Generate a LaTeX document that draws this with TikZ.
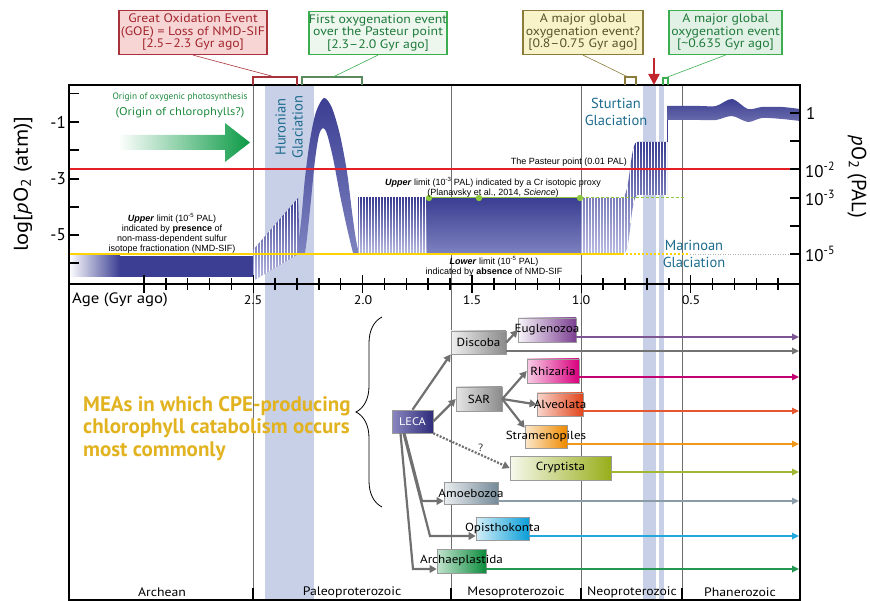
\documentclass[tikz,border=0pt]{standalone}
\usepackage{fontspec}
\setmainfont{PT Sans}
\newfontfamily\arialf{Liberation Sans}
\newfontfamily\myr[FakeStretch=1.12,Ligatures=TeX]{PT Sans}
\usetikzlibrary{arrows.meta,decorations.pathreplacing,calc}
\definecolor{oxblue}{HTML}{3B3E92}
\definecolor{oxmid}{HTML}{7D82C0}
\definecolor{oxlight}{HTML}{B9BCE2}
\definecolor{bandc}{HTML}{C8D0E7}
\definecolor{glac}{HTML}{1D6B8E}
\definecolor{pasteur}{HTML}{E41F26}
\definecolor{yel}{HTML}{FFD300}
\definecolor{crgreen}{HTML}{8DC63F}
\definecolor{eragrey}{HTML}{6E6E6E}
\definecolor{ogreen}{HTML}{1E8A3E}
\definecolor{arrgreen}{HTML}{0B9A45}
\definecolor{goeT}{HTML}{A2262D}
\definecolor{goeF}{HTML}{F7D5D5}
\definecolor{goeD}{HTML}{A9333A}
\definecolor{grT}{HTML}{1F7A3C}
\definecolor{grF}{HTML}{EDF7EE}
\definecolor{grF2}{HTML}{E2F1E5}
\definecolor{grD}{HTML}{3DAE50}
\definecolor{brG}{HTML}{5A8A5E}
\definecolor{olT}{HTML}{59522A}
\definecolor{olF}{HTML}{F8F3C9}
\definecolor{olD}{HTML}{8C7C3B}
\definecolor{arrred}{HTML}{C1272D}
\definecolor{treeg}{HTML}{707070}
\definecolor{boxg}{HTML}{9A9A9A}
\definecolor{meaY}{HTML}{E2B321}
\definecolor{cEug}{HTML}{7B3F91}
\definecolor{cEugA}{HTML}{7E5594}
\definecolor{cRhi}{HTML}{D9007E}
\definecolor{cAlv}{HTML}{E2441A}
\definecolor{cStr}{HTML}{EE8A00}
\definecolor{cCry}{HTML}{98AE1A}
\definecolor{cAmo}{HTML}{748A98}
\definecolor{cOpi}{HTML}{0A9ED8}
\definecolor{cArc}{HTML}{0C8C3C}
\definecolor{cLeca}{HTML}{2E2C7A}
\definecolor{cLecaL}{HTML}{8A87C0}
\definecolor{cGrey}{HTML}{8A8A8A}
\begin{document}
\begin{tikzpicture}[x=1pt,y=-1pt,
  topbox/.style={draw, line width=1.2pt, align=center, inner sep=0pt, minimum height=44pt, font=\myr\fontsize{12.3}{12.5}\selectfont},
  anno/.style={font=\arialf\fontsize{9}{10}\selectfont, align=center, inner sep=0pt},
  glacl/.style={text=glac, font=\fontsize{14.5}{17}\selectfont, align=center, inner sep=0pt},
  tbox/.style={draw=boxg, line width=0.6pt, inner sep=0pt, font=\myr\fontsize{11.7}{13}\selectfont},
  tarrow/.style={draw=treeg, line width=2.2pt, -{Triangle[length=7pt,width=7.5pt]}},
  harrow/.style={line width=1.6pt, -{Triangle[length=7pt,width=6.5pt]}},
  eraline/.style={draw=eragrey, line width=0.8pt},
  tickc/.style={line width=1.5pt},
  bignum/.style={font=\fontsize{17}{20}\selectfont, inner sep=0pt}
]
\useasboundingbox (0,0) rectangle (870,601);

% glaciation bands
\fill[bandc] (265,85) rectangle (314,600);
\fill[bandc] (643,85) rectangle (656,600);
\fill[bandc] (659,85) rectangle (664,600);

% era lines
\foreach \x in {253,451,581,682} \draw[eraline] (\x,85) -- (\x,600);

% Archean block
\shade[left color=white, right color=oxblue] (69,256) rectangle (120,277);
\fill[oxblue] (119.5,256) rectangle (253,277);

% ramp stripes
\begin{scope}
\clip (253,250) -- (298,198) -- (300,253) -- (253,281) -- cycle;
\shade[top color=oxblue, bottom color=oxlight] (253,198) rectangle (300,281);
\foreach \x in {254.5,257.5,...,300} \draw[white, line width=1.2pt] (\x,195) -- (\x,285);
\end{scope}

% bell
\shade[top color=oxblue, bottom color=oxmid]
  plot[smooth] coordinates {(297,253) (301,222) (305,178) (310,140) (316,112) (324,98) (332,108) (340,135) (347,172) (352,212) (356,240) (359,253)}
  -- plot[smooth] coordinates {(353,253) (347,228) (340,195) (333,158) (327,134) (323,128) (319,135) (315,160) (311,200) (307,238) (305,253)}
  -- cycle;

% stripes 2.0-1.7
\begin{scope}
\clip (358,198) rectangle (427,254);
\shade[top color=oxblue, bottom color=oxlight] (358,198) rectangle (427,254);
\foreach \x in {359.5,362.5,...,427} \draw[white, line width=1.2pt] (\x,196) -- (\x,256);
\end{scope}
% solid
\shade[top color=oxblue, bottom color=oxmid] (427,198) rectangle (581,254);

% stripes 1.0 onwards
\begin{scope}
\clip (581,198) -- (622,198) .. controls (630,198) and (630,142) .. (637,142) -- (667,142) -- (667,195) -- (638,195) .. controls (630,195) and (631,253) .. (624,253) -- (581,253) -- cycle;
\shade[top color=oxblue, bottom color=oxlight] (581,142) rectangle (667,254);
\foreach \x in {582.5,585.5,...,667} \draw[white, line width=1.2pt] (\x,140) -- (\x,256);
\end{scope}
\draw[oxblue, line width=1pt] (667,142) -- (667,106);

% Phanerozoic band
\shade[top color=oxblue, bottom color=oxblue!75]
  plot[smooth] coordinates {(667,106) (700,106) (716,106) (732,99) (748,109) (762,107) (782,107) (800,109)}
  -- plot[smooth] coordinates {(800,121) (782,119) (762,118) (748,122) (732,116) (716,120) (700,120) (667,120)}
  -- cycle;

% reference lines
\draw[pasteur, line width=1.8pt] (69,169) -- (790,169);
\draw[yel, line width=1.8pt] (69,254) -- (622,254);
\draw[yel, line width=1.2pt, dash pattern=on 2pt off 2pt] (622,254) -- (690,254);
\draw[gray!60, line width=0.5pt, dash pattern=on 1pt off 1.5pt] (690,254) -- (790,254);
\draw[crgreen, line width=1pt] (429,198) -- (581,198);
\draw[crgreen, line width=1pt, dash pattern=on 3pt off 2pt] (581,198) -- (685,198);
\foreach \x in {429,479,580} \fill[crgreen] (\x,198) circle (3.2);

% frame
\draw[line width=1.3pt] (69,85) -- (69,600) -- (800,600) -- (800,85);
\draw[line width=2pt] (68,85) -- (801,85);
\draw[line width=1.5pt] (69,284) -- (800,284);

% y ticks
\foreach \y in {93.5,122,150,179,207,235,263} \draw[tickc] (69,\y) -- (79,\y);
\foreach \y in {113,141,169,198,226,254} \draw[tickc] (790,\y) -- (800,\y);
% age ticks
\foreach \a in {1,...,30}{
  \pgfmathsetmacro\xx{800-21.87*\a}
  \pgfmathtruncatemacro\mm{mod(\a,5)}
  \ifnum\mm=0 \draw[tickc] (\xx,275) -- (\xx,293); \else \draw[tickc] (\xx,278) -- (\xx,290); \fi
}
% era ticks bottom
\foreach \x in {253,451,581,682} \draw[tickc] (\x,588) -- (\x,600);

% axis labels
\node[bignum, anchor=east] (lm1) at (66,122) {-1};
\node[bignum, anchor=east] (lm3) at (66,179) {-3};
\node[bignum, anchor=east] (lm5) at (66,235) {-5};
\node[bignum, anchor=west] (r1) at (806,113) {1};
\node[bignum, anchor=west] (r2) at (805,170) {10\textsuperscript{-2}};
\node[bignum, anchor=west] (r3) at (805,198) {10\textsuperscript{-3}};
\node[bignum, anchor=west] (r5) at (805,254) {10\textsuperscript{-5}};
\node[rotate=90, font=\myr\fontsize{20}{24}\selectfont] (ylab) at (23,184) {log[\textit{p}O\textsubscript{2} (atm)]};
\node[rotate=-90, font=\fontsize{20.5}{24}\selectfont] (ylab2) at (857,177) {\textit{p}O\textsubscript{2} (PAL)};
\node[anchor=west, font=\myr\fontsize{15}{18}\selectfont, inner sep=0pt] (agelab) at (72,300) {Age (Gyr ago)};
\foreach \x/\t in {253/2.5,363/2.0,472/1.5,581/1.0,691/0.5} \node[font=\myr\fontsize{12.5}{14}\selectfont, inner sep=0pt] at (\x,300) {\t};

% era names
\foreach \x/\t in {162/Archean,352/Paleoproterozoic,516/Mesoproterozoic,632/Neoproterozoic,740/Phanerozoic}
  \node[font=\myr\fontsize{12.3}{13}\selectfont, inner sep=0pt] at (\x,592) {\t};

% glaciation labels
\node[glacl, rotate=90] (huron) at (289,127) {Huronian\\Glaciation};
\node[glacl] (sturt) at (616,112) {Sturtian\\Glaciation};
\node[glacl] (marin) at (694,254) {Marinoan\\Glaciation};

% annotations
\node[anno] (nmd) at (172,233) {\textbf{\textit{Upper}} limit (10\textsuperscript{-5} PAL)\\indicated by \textbf{presence} of\\non-mass-dependent sulfur\\isotope fractionation (NMD-SIF)};
\node[anno, anchor=east] (past) at (627,162) {The Pasteur point (0.01 PAL)};
\node[anno] (cr) at (493,187.5) {\textbf{\textit{Upper}} limit (10\textsuperscript{-3} PAL) indicated by a Cr isotopic proxy\\(Planavsky et al., 2014, \textit{Science})};
\node[anno] (low) at (494,266) {\textbf{\textit{Lower}} limit (10\textsuperscript{-5} PAL)\\indicated by \textbf{absence} of NMD-SIF};

% origin of photosynthesis
\node[text=ogreen, font=\fontsize{9.3}{11}\selectfont, inner sep=0pt] (orig1) at (180,97) {Origin of oxygenic photosynthesis};
\node[text=ogreen, font=\myr\fontsize{11.2}{13}\selectfont, inner sep=0pt] (orig2) at (180,113) {(Origin of chlorophylls?)};
\shade[left color=white, right color=arrgreen] (118,135) -- (225,135) -- (225,123) -- (250,142.5) -- (225,162) -- (225,150) -- (118,150) -- cycle;

% top boxes
\node[topbox, draw=goeD, fill=goeF, text=goeT, minimum width=148pt] (goe) at (193,32.5) {Great Oxidation Event\\(GOE) = Loss of NMD-SIF\\{[2.5–2.3 Gyr ago]}};
\node[topbox, draw=grD, fill=grF, text=grT, minimum width=138pt, minimum height=43pt] (foe) at (378,33) {First oxygenation event\\over the Pasteur point\\{[2.3–2.0 Gyr ago]}};
\node[topbox, draw=olD, fill=olF, text=olT, minimum width=120pt] (mg1) at (583,32.5) {A major global\\oxygenation event?\\{[0.8–0.75 Gyr ago]}};
\node[topbox, draw=grD, fill=grF2, text=grT, minimum width=113pt] (mg2) at (725.5,32.5) {A major global\\oxygenation event\\{[\textasciitilde0.635 Gyr ago]}};

% brackets
\draw[goeD, line width=1.3pt] (253,85) -- (253,77) -- (297,77) -- (297,85);
\draw[brG, line width=1.3pt] (302,85) -- (302,77) -- (362,77) -- (362,85);
\draw[olD, line width=1.3pt] (625,85) -- (625,77) -- (636,77) -- (636,85);
\draw[grD, line width=1.3pt] (663,85) -- (663,78) -- (668,78) -- (668,85);
\coordinate (bGoe) at (275,77);
\coordinate (bFoe) at (333,77);
\coordinate (bMg1) at (628,77);
\coordinate (bMg2) at (665,78);
\draw[goeD, line width=0.6pt] (goe.south) -- (bGoe);
\draw[grD, line width=0.6pt] (foe.south) -- (bFoe);
\draw[olD, line width=0.6pt] (mg1.south) -- (bMg1);
\draw[grD, line width=0.6pt] (mg2.south) -- (bMg2);
\coordinate (rA) at (654,58);
\coordinate (rB) at (654,85);
\draw[arrred, line width=2.4pt, -{Triangle[length=11pt,width=11pt]}] (rA) -- (rB);

% MEA text and brace
\node[anchor=north west, align=left, text=meaY, inner sep=0pt, font=\bfseries\fontsize{21}{22.5}\selectfont] (mea) at (83,396) {MEAs in which CPE-producing\\chlorophyll catabolism occurs\\most commonly};
\draw[line width=0.8pt, decorate, decoration={brace, amplitude=26pt}] (382,507) -- (382,317);

% tree nodes
\node[tbox, left color=cLecaL, right color=cLeca, text=white, minimum width=41pt, minimum height=23pt, font=\myr\fontsize{11}{12}\selectfont] (leca) at (412.5,421.5) {LECA};
\node[tbox, left color=gray!12, right color=cGrey, minimum width=55pt, minimum height=23pt] (disc) at (478.5,342.5) {Discoba};
\node[tbox, left color=cEug!6, right color=cEug, minimum width=58pt, minimum height=24pt] (eug) at (547,330) {\makebox[0pt]{Euglenozoa}};
\node[tbox, left color=gray!20, right color=cGrey, minimum width=46pt, minimum height=24pt] (sar) at (479,399) {SAR};
\node[tbox, left color=cRhi!20, right color=cRhi, minimum width=52pt, minimum height=24pt] (rhi) at (553,371) {\makebox[0pt]{Rhizaria}};
\node[tbox, left color=cAlv!22, right color=cAlv, minimum width=46pt, minimum height=23pt] (alv) at (560,404.5) {\makebox[0pt]{Alveolata}};
\node[tbox, left color=cStr!20, right color=cStr, minimum width=42pt, minimum height=23pt] (str) at (546,436.5) {\makebox[0pt]{Stramenopiles}};
\node[tbox, left color=cCry!8, right color=cCry, minimum width=101pt, minimum height=24pt] (cry) at (560.5,468) {Cryptista};
\node[tbox, left color=cAmo!15, right color=cAmo, minimum width=54pt, minimum height=22pt] (amo) at (471,493) {\makebox[0pt]{Amoebozoa}};
\node[tbox, left color=cOpi!18, right color=cOpi, minimum width=53pt, minimum height=23pt] (opi) at (502.5,528.5) {\makebox[0pt]{Opisthokonta}};
\node[tbox, left color=cArc!25, right color=cArc, minimum width=49pt, minimum height=24pt] (arc) at (461.5,561) {\makebox[0pt]{Archaeplastida}};

% tree edges
\draw[tarrow] (leca.north) -- (disc.south west);
\draw[tarrow] (leca.east) -- (sar.west);
\draw[tarrow] (disc.east) -- (eug.west);
\draw[tarrow] (sar.east) -- (rhi.west);
\draw[tarrow] (sar.east) -- (alv.west);
\draw[tarrow] (sar.east) -- ([yshift=-3pt]str.north west);
\draw[tarrow, dash pattern=on 2pt off 1.5pt] (leca.south east) -- (cry.west) node[pos=0.62, above, inner sep=2pt, font=\myr\fontsize{10.5}{12}\selectfont, text=black!80] {?};
\coordinate (bAmo) at (422,501);
\coordinate (bOpi) at (430,536);
\coordinate (bArc) at (413,569);
\draw[tarrow] ([xshift=-8pt]leca.south) -- (bAmo) -- (amo.west |- bAmo);
\draw[tarrow] ([xshift=-9pt]leca.south) -- (bOpi) -- (opi.west |- bOpi);
\draw[tarrow] ([xshift=-12pt]leca.south) -- (bArc) -- (arc.west |- bArc);

% horizontal lineage arrows
\coordinate (eEug) at (799,337);
\coordinate (eDisc) at (799,351);
\coordinate (eRhi) at (799,377);
\coordinate (eAlv) at (799,411);
\coordinate (eStr) at (799,444);
\coordinate (eCry) at (799,472);
\coordinate (eAmo) at (799,501);
\coordinate (eOpi) at (799,536);
\coordinate (eArc) at (799,569);
\draw[harrow, cEugA] (eug.east |- eEug) -- (eEug);
\draw[harrow, gray!110] (disc.east |- eDisc) -- (eDisc);
\draw[harrow, cRhi!90!black] (rhi.east |- eRhi) -- (eRhi);
\draw[harrow, cAlv!90] (alv.east |- eAlv) -- (eAlv);
\draw[harrow, cStr!90] (str.east |- eStr) -- (eStr);
\draw[harrow, cCry!90] (cry.east |- eCry) -- (eCry);
\draw[harrow, cAmo!85] (amo.east |- eAmo) -- (eAmo);
\draw[harrow, cOpi!90] (opi.east |- eOpi) -- (eOpi);
\draw[harrow, cArc!90] (arc.east |- eArc) -- (eArc);
\end{tikzpicture}
\end{document}
